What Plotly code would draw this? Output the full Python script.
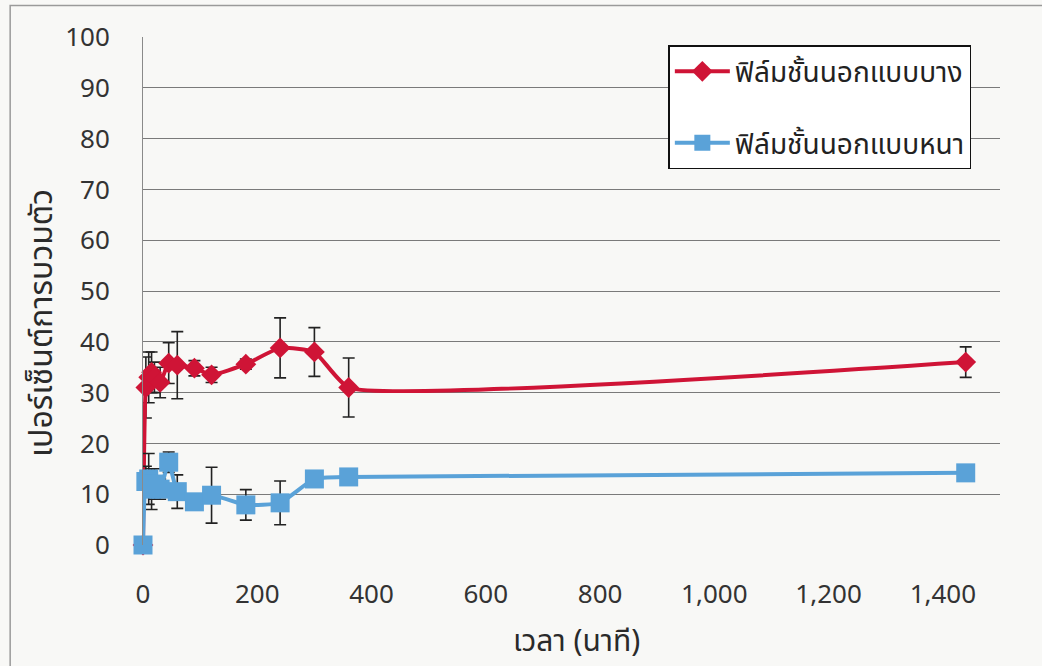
import plotly.graph_objects as go

# Swelling percentage of outer film layers over time (minutes)
time_min = [0, 5, 10, 15, 20, 30, 45, 60, 90, 120, 180, 240, 300, 360, 1440]

thin_swell = [0, 31, 33, 34, 33, 32, 35.8, 35.4, 34.8, 33.5, 35.6, 38.8, 38, 31, 36]
thin_err = [0, 6, 5, 4, 3, 3, 4, 6.6, 1.5, 1.5, 1, 5.9, 4.8, 5.8, 3]

thick_swell = [0, 12.5, 13, 11, 12, 11, 16.3, 10.5, 8.5, 9.8, 7.9, 8.3, 13, 13.4, 14.2]
thick_err = [0, 3, 5, 4, 3, 2, 2, 3.3, 1.5, 5.5, 3, 4.3, 1, 0.5, 0.5]

x_ticks = [0, 200, 400, 600, 800, 1000, 1200, 1400]
y_ticks = [0, 10, 20, 30, 40, 50, 60, 70, 80, 90, 100]

thin_name = "ฟิล์มชั้นนอกแบบบาง"
thick_name = "ฟิล์มชั้นนอกแบบหนา"
x_title = "เวลา (นาที)"
y_title = "เปอร์เซ็นต์การบวมตัว"

FONT = "Tahoma, 'Noto Sans Thai', 'Noto Sans', 'DejaVu Sans', sans-serif"
RED = "#cf1436"
BLUE = "#5aa2d8"
TICK_COLOR = "#333333"

fig = go.Figure()

fig.add_trace(go.Scatter(
    x=time_min, y=thin_swell, name=thin_name, legendgroup="thin",
    mode="lines+markers",
    line=dict(color=RED, width=4, shape="spline", smoothing=0.45),
    marker=dict(symbol="diamond", size=16, color=RED),
    error_y=dict(type="data", array=thin_err, visible=True,
                 color="#222222", thickness=1.6, width=6),
    cliponaxis=False,
))

fig.add_trace(go.Scatter(
    x=time_min, y=thick_swell, name=thick_name, legendgroup="thick",
    mode="lines+markers",
    line=dict(color=BLUE, width=4, shape="spline", smoothing=0.45),
    marker=dict(symbol="square", size=19, color=BLUE),
    error_y=dict(type="data", array=thick_err, visible=True,
                 color="#222222", thickness=1.6, width=6),
    cliponaxis=False,
))

fig.update_layout(
    width=1042, height=666,
    margin=dict(l=143, r=42, t=37, b=121),
    paper_bgcolor="#f8f8f6",
    plot_bgcolor="rgba(0,0,0,0)",
    font=dict(family=FONT, size=26, color=TICK_COLOR),
    showlegend=True,
    legend=dict(
        x=0.613, y=0.984, xanchor="left", yanchor="top",
        bgcolor="#ffffff", bordercolor="#111111", borderwidth=1.5,
        font=dict(family=FONT, size=28, color="#222222"),
        itemwidth=55, tracegroupgap=32,
    ),
    xaxis=dict(
        range=[0, 1500], tickvals=x_ticks, tickformat=",",
        showgrid=False, zeroline=False, showline=False,
        ticks="outside", ticklen=26, tickcolor="rgba(0,0,0,0)",
        tickfont=dict(size=26, color=TICK_COLOR),
    ),
    yaxis=dict(
        range=[0, 100], tickvals=y_ticks,
        showgrid=True, gridcolor="#7a7a7a", gridwidth=1.2,
        zeroline=False, showline=True, linecolor="#8a8a8a", linewidth=1,
        ticks="outside", ticklen=27, tickcolor="rgba(0,0,0,0)",
        tickfont=dict(size=26, color=TICK_COLOR),
    ),
    annotations=[
        dict(text=x_title, xref="paper", yref="paper",
             x=(576 - 143) / 857, y=-(642 - 545) / 508,
             xanchor="center", yanchor="middle", showarrow=False,
             font=dict(family=FONT, size=30, color="#2a2a2a")),
        dict(text=y_title, xref="paper", yref="paper",
             x=-(143 - 42) / 857, y=(545 - 323) / 508,
             xanchor="center", yanchor="middle", showarrow=False, textangle=-90,
             font=dict(family=FONT, size=32, color="#2a2a2a")),
    ],
    shapes=[dict(
        type="rect", xref="paper", yref="paper",
        x0=-0.155, x1=1.06, y0=-0.25, y1=1.062,
        line=dict(color="#9a9a9a", width=1.5), fillcolor="rgba(0,0,0,0)",
    )],
)

fig.write_html("out.html")
